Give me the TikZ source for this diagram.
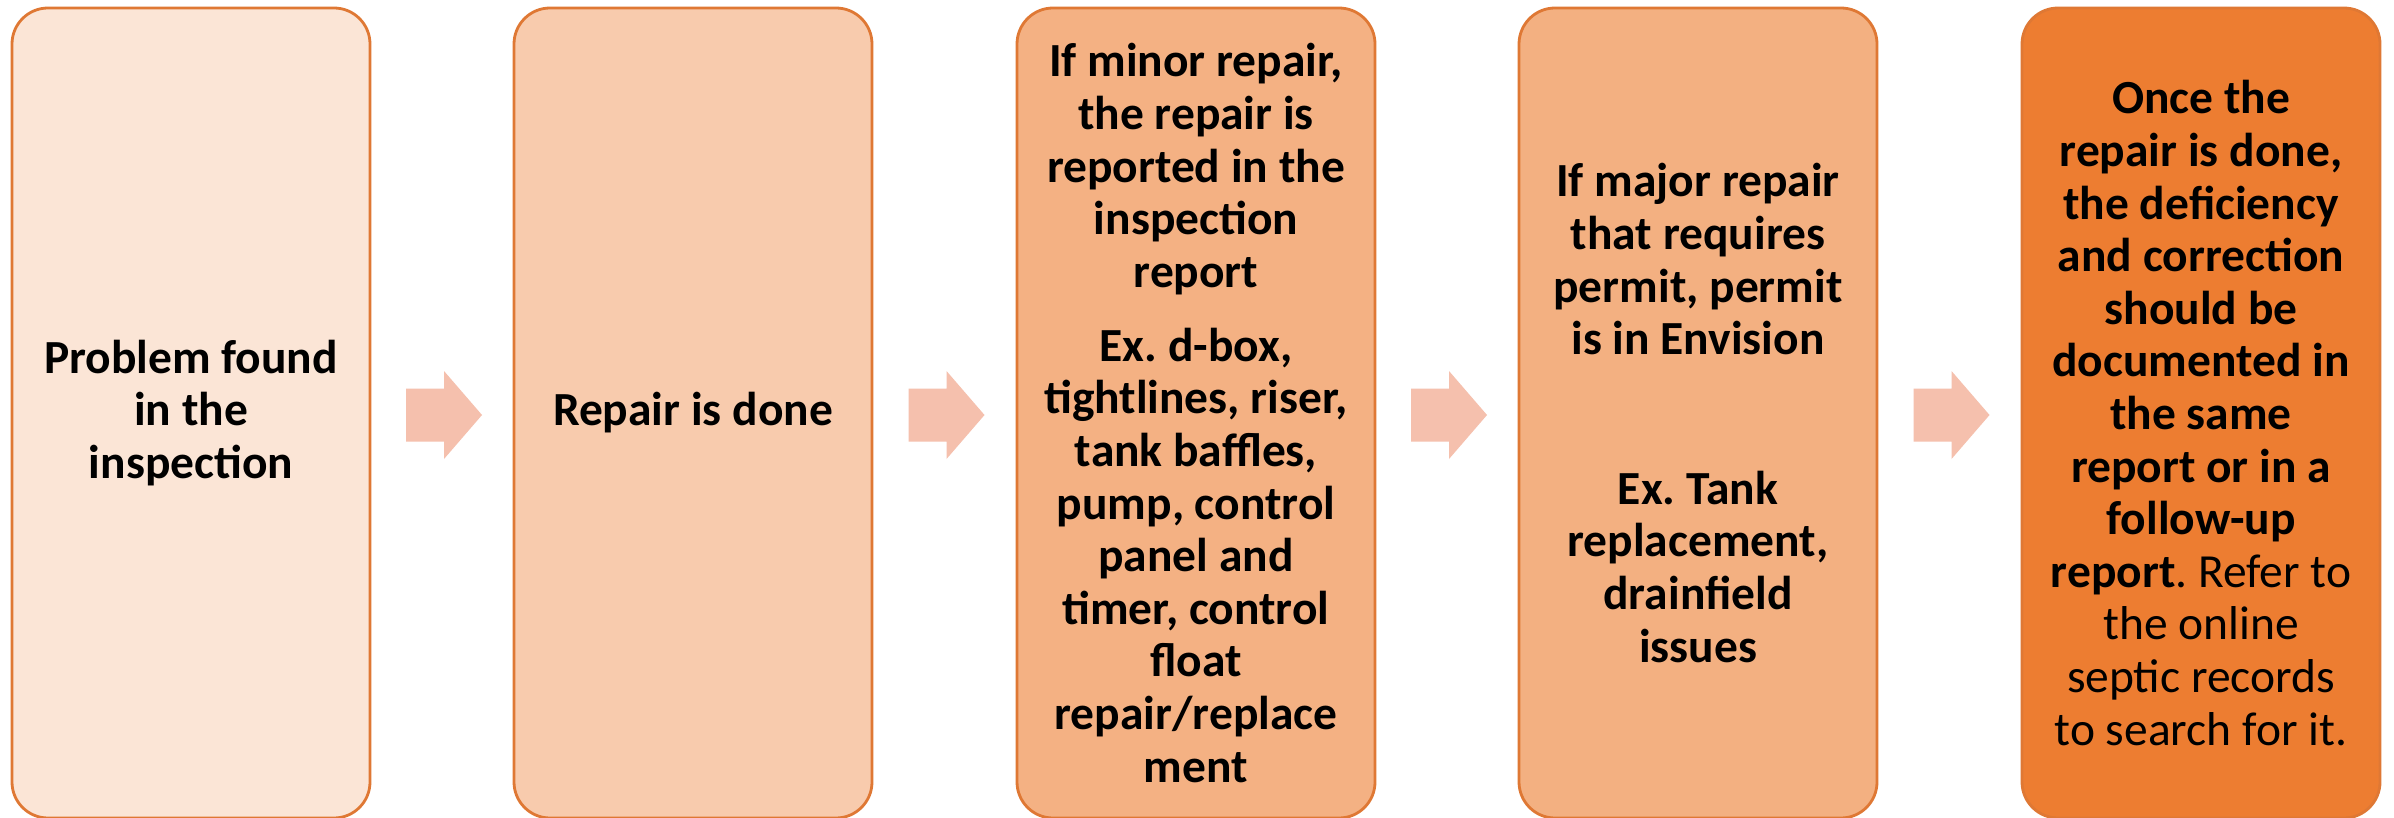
\documentclass[tikz,border=0pt]{standalone}
\usepackage{fontspec}
\setmainfont{Carlito}
\usetikzlibrary{calc}
\frenchspacing
\definecolor{fillA}{HTML}{FBE5D6}
\definecolor{fillB}{HTML}{F8CBAD}
\definecolor{fillC}{HTML}{F4B183}
\definecolor{fillD}{HTML}{F3B081}
\definecolor{fillE}{HTML}{ED7D31}
\definecolor{edgeC}{HTML}{DF7834}
\definecolor{arrowC}{HTML}{F5C0AD}
\tikzset{
  stepbox/.style={draw=edgeC, line width=2.8pt, rounded corners=36pt,
    minimum width=358pt, minimum height=810pt, inner sep=0pt,
    align=center, text=black,
    font={\fontsize{47.5pt}{52.6pt}\selectfont\bfseries\frenchspacing}},
  blockarrow/.style={fill=arrowC, draw=none}
}
\begin{document}
\begin{tikzpicture}[x=1pt,y=-1pt]
\useasboundingbox (0,0) rectangle (2394,818);
\fill[white] (0,0) rectangle (2394,818);
\node[stepbox, fill=fillA] (b1) at (191,413) {Problem found\\in the\\inspection};
\node[stepbox, fill=fillB] (b2) at (693,413) {Repair is done};
\node[stepbox, fill=fillC] (b3) at (1196,413) {If minor repair,\\the repair is\\reported in the\\inspection\\report\\[21.5pt]Ex. d-box,\\tightlines, riser,\\tank baffles,\\pump, control\\panel and\\timer, control\\float\\repair/replace\\ment};
\node[stepbox, fill=fillD] (b4) at (1698,413) {If major repair\\that requires\\permit, permit\\is in Envision\\[97pt]Ex. Tank\\replacement,\\drainfield\\issues};
\node[stepbox, fill=fillE] (b5) at (2201,413) {Once the\\repair is done,\\the deficiency\\and correction\\should be\\documented in\\the same\\report or in a\\follow-up\\report{\mdseries. Refer to}\\{\mdseries the online}\\{\mdseries septic records}\\{\mdseries to search for it.}};
\foreach \a/\b/\n in {b1/b2/1, b2/b3/2, b3/b4/3, b4/b5/4} {
  \coordinate (m\n) at ($(\a.east)!0.5!(\b.west)+(2,2)$);
  \fill[blockarrow] ($(m\n)+(-38,-26.5)$) -- ($(m\n)+(0,-26.5)$) -- ($(m\n)+(0,-44)$)
    -- ($(m\n)+(38,0)$) -- ($(m\n)+(0,44)$) -- ($(m\n)+(0,26.5)$) -- ($(m\n)+(-38,26.5)$) -- cycle;
}
\end{tikzpicture}
\end{document}
